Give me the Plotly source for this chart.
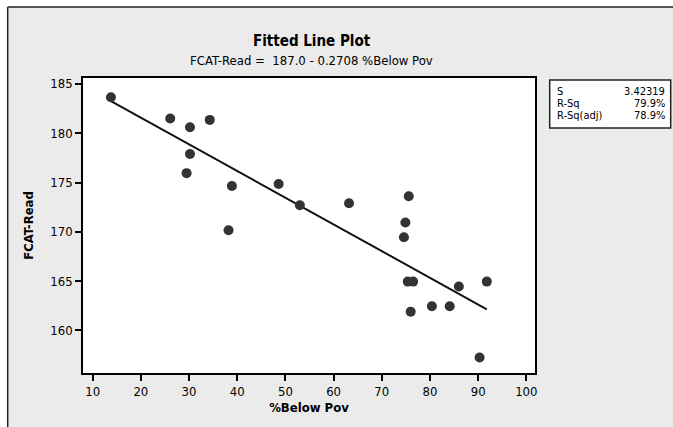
import plotly.graph_objects as go

# Data
pct_below_pov = [13.8, 26.1, 30.2, 34.3, 30.2, 29.5, 38.9, 38.2, 48.6, 53.0, 63.2,
                 75.6, 74.9, 74.6, 75.4, 76.5, 76.0, 80.4, 84.1, 86.0, 91.8, 90.3]
fcat_read = [183.65, 181.5, 180.6, 181.35, 177.9, 175.95, 174.65, 170.15, 174.85, 172.7, 172.9,
             173.6, 170.95, 169.45, 164.95, 164.95, 161.9, 162.45, 162.45, 164.45, 164.95, 157.25]

intercept = 187.0
slope = -0.2708
fit_x = [min(pct_below_pov), max(pct_below_pov)]
fit_y = [intercept + slope * v for v in fit_x]

x_ticks = [10, 20, 30, 40, 50, 60, 70, 80, 90, 100]
y_ticks = [160, 165, 170, 175, 180, 185]

stats_labels = ["S", "R-Sq", "R-Sq(adj)"]
stats_values = ["3.42319", "79.9%", "78.9%"]

W, H = 673, 427
L, R, T, B = 83.3, 535.3, 78, 373.3

font_family = "DejaVu Sans Condensed, DejaVu Sans"

fig = go.Figure()
fig.add_trace(go.Scatter(x=fit_x, y=fit_y, mode="lines",
                         line=dict(color="#111111", width=2), hoverinfo="skip"))
fig.add_trace(go.Scatter(x=pct_below_pov, y=fcat_read, mode="markers",
                         marker=dict(color="#333333", size=10, line=dict(width=0))))


def px_x(p):
    # pixel x -> paper coordinate (relative to plot area)
    return (p - L) / (R - L)


def px_y(p):
    # pixel y (from top) -> paper coordinate (relative to plot area)
    return (B - p) / (B - T)


shapes = [
    dict(type="rect", xref="paper", yref="paper", x0=px_x(8), x1=px_x(680), y0=px_y(435), y1=px_y(7),
         fillcolor="#ebebeb", line=dict(width=0), layer="below"),
    dict(type="line", xref="paper", yref="paper", x0=px_x(8), x1=px_x(8), y0=px_y(435), y1=px_y(7),
         line=dict(color="#222222", width=1.5)),
    dict(type="line", xref="paper", yref="paper", x0=px_x(8), x1=px_x(680), y0=px_y(7), y1=px_y(7),
         line=dict(color="#222222", width=1.5)),
    dict(type="rect", xref="paper", yref="paper", x0=0, x1=1, y0=0, y1=1,
         fillcolor="white", line=dict(width=0), layer="below"),
    dict(type="rect", xref="paper", yref="paper", x0=px_x(550), x1=px_x(671), y0=px_y(128), y1=px_y(80),
         fillcolor="white", line=dict(color="#222222", width=1.5)),
]

annotations = [
    dict(text="<b>Fitted Line Plot</b>", xref="paper", yref="paper", x=px_x(312), y=px_y(41),
         showarrow=False, font=dict(family=font_family, size=15, color="black"),
         xanchor="center", yanchor="middle"),
    dict(text="FCAT-Read =  187.0 - 0.2708 %Below Pov", xref="paper", yref="paper",
         x=px_x(312), y=px_y(60), showarrow=False,
         font=dict(family=font_family, size=13, color="black"), xanchor="center", yanchor="middle"),
]
row_y = [92, 104, 116]
for lab, val, yy in zip(stats_labels, stats_values, row_y):
    annotations.append(dict(text=lab, xref="paper", yref="paper", x=px_x(555), y=px_y(yy),
                            showarrow=False, xanchor="left", yanchor="middle",
                            font=dict(family=font_family, size=11, color="black")))
    annotations.append(dict(text=val, xref="paper", yref="paper", x=px_x(667), y=px_y(yy),
                            showarrow=False, xanchor="right", yanchor="middle",
                            font=dict(family=font_family, size=11, color="black")))

fig.update_layout(
    width=W, height=H,
    margin=dict(l=L, r=W - R, t=T, b=H - B, pad=0),
    paper_bgcolor="white", plot_bgcolor="white",
    showlegend=False,
    shapes=shapes, annotations=annotations,
    font=dict(family=font_family, size=13, color="black"),
    xaxis=dict(range=[8.0, 101.8], tickvals=x_ticks, ticks="outside", ticklen=6,
               tickwidth=1.5, tickcolor="black", showline=True, linecolor="black",
               linewidth=1.5, mirror=True, showgrid=False, zeroline=False,
               tickfont=dict(family=font_family, size=13),
               title=dict(text="<b>%Below Pov</b>", font=dict(family=font_family, size=13),
                          standoff=5)),
    yaxis=dict(range=[155.68, 185.6], tickvals=y_ticks, ticks="outside", ticklen=6,
               tickwidth=1.5, tickcolor="black", showline=True, linecolor="black",
               linewidth=1.5, mirror=True, showgrid=False, zeroline=False,
               tickfont=dict(family=font_family, size=13),
               title=dict(text="<b>FCAT-Read</b>", font=dict(family=font_family, size=13),
                          standoff=14)),
)

fig.write_html("out.html")
